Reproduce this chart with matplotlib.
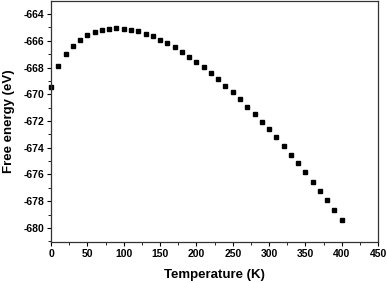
import matplotlib
matplotlib.use("Agg")
import matplotlib.pyplot as plt
from matplotlib.ticker import MultipleLocator

# temperature (K) and free energy (eV)
temperature = [0, 10, 20, 30, 40, 50, 60, 70, 80, 90, 100, 110, 120, 130, 140,
               150, 160, 170, 180, 190, 200, 210, 220, 230, 240, 250, 260, 270,
               280, 290, 300, 310, 320, 330, 340, 350, 360, 370, 380, 390, 400]
free_energy = [-669.47, -667.90, -666.98, -666.39, -665.92, -665.54, -665.32,
               -665.17, -665.09, -665.04, -665.09, -665.17, -665.29, -665.47,
               -665.66, -665.92, -666.16, -666.46, -666.81, -667.18, -667.56,
               -667.98, -668.40, -668.87, -669.37, -669.84, -670.37, -670.92,
               -671.46, -672.04, -672.63, -673.20, -673.87, -674.52, -675.17,
               -675.84, -676.54, -677.23, -677.93, -678.65, -679.40]

plt.rcParams['font.family'] = ['Liberation Sans', 'DejaVu Sans']
plt.rcParams['font.weight'] = 'bold'
plt.rcParams['axes.unicode_minus'] = False

fig = plt.figure(figsize=(3.87, 2.83), dpi=100)
ax = fig.add_axes([0.132, 0.145, 0.845, 0.851])

ax.plot(temperature, free_energy, 's', color='black', ms=3.5, clip_on=False)

ax.set_xlim(0, 450)
ax.set_ylim(-681.05, -663.03)
ax.xaxis.set_major_locator(MultipleLocator(50))
ax.xaxis.set_minor_locator(MultipleLocator(25))
ax.yaxis.set_minor_locator(MultipleLocator(1))
ax.set_yticks(range(-680, -663, 2))
ax.tick_params(which='major', length=3, width=0.8, labelsize=7.5, pad=2)
ax.tick_params(which='minor', length=2, width=0.6)
for lab in ax.get_xticklabels() + ax.get_yticklabels():
    lab.set_fontweight('bold')

for s in ax.spines.values():
    s.set_linewidth(0.9)
    s.set_color('#333333')

ax.set_xlabel('Temperature (K)', fontsize=9.5, fontweight='bold', labelpad=7)
ax.set_ylabel('Free energy (eV)', fontsize=9.5, fontweight='bold', labelpad=6)

fig.savefig('out.png', dpi=100)
